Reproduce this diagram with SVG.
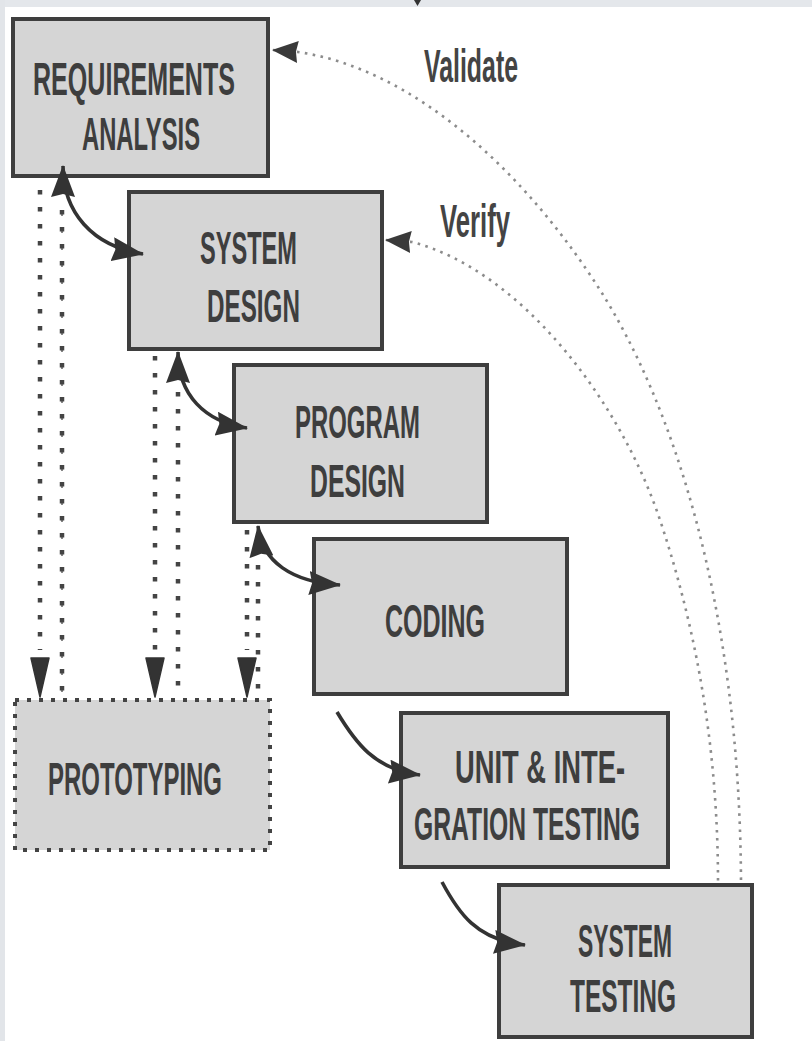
<svg xmlns="http://www.w3.org/2000/svg" width="812" height="1041" viewBox="0 0 812 1041">
<style>
.box{fill:#d5d5d5;stroke:#3e3e3e;stroke-width:4}
.lbl{font-family:"Liberation Sans Narrow","Liberation Sans",Arial,sans-serif;font-weight:bold;font-size:47px;fill:#3e3e3e}
.note{font-family:"Liberation Sans Narrow","Liberation Sans",Arial,sans-serif;font-weight:bold;font-size:46px;fill:#444}
.flow{fill:none;stroke:#333;stroke-width:3.6}
.dotA{fill:none;stroke:#444;stroke-width:4.5;stroke-dasharray:4.5 12.5}
.dotB{fill:none;stroke:#888;stroke-width:2;stroke-dasharray:2 15;stroke-dashoffset:-9}
.arc{fill:none;stroke:#8c8c8c;stroke-width:2.6;stroke-dasharray:2.6 5.4}
.proto{fill:#d5d5d5;stroke:#444;stroke-width:4;stroke-dasharray:4 8}
.dn{fill:#333;stroke:#333;stroke-width:1.5;stroke-linejoin:round}
</style>
<defs>
<marker id="ah" viewBox="0 0 32 24" refX="31" refY="12" markerWidth="32" markerHeight="24" markerUnits="userSpaceOnUse" orient="auto-start-reverse">
<path d="M0,0 L32,12 L0,24 L3,12 Z" fill="#333"/>
</marker>
<marker id="ahv" viewBox="0 0 26 22" refX="25" refY="11" markerWidth="26" markerHeight="22" markerUnits="userSpaceOnUse" orient="auto-start-reverse">
<path d="M0,0 L26,11 L0,22 L2,11 Z" fill="#3a3a3a"/>
</marker>
</defs>
<rect x="0" y="0" width="812" height="1041" fill="#ffffff"/>
<rect x="0" y="0" width="812" height="7" fill="#e4e7eb"/>
<rect x="0" y="0" width="5" height="1041" fill="#e2e5e9"/>
<polygon points="414,0 421,0 417.5,6" fill="#333"/>

<g id="prototyping">
<rect class="proto" x="15" y="700" width="255" height="150"/>
<text class="lbl" x="48" y="795" textLength="174" lengthAdjust="spacingAndGlyphs">PROTOTYPING</text>
</g>
<g id="requirements">
<rect class="box" x="13" y="19" width="255" height="157"/>
<text class="lbl" x="33" y="95" textLength="202" lengthAdjust="spacingAndGlyphs">REQUIREMENTS</text>
<text class="lbl" x="82" y="150" textLength="118" lengthAdjust="spacingAndGlyphs">ANALYSIS</text>
</g>
<g id="system-design">
<rect class="box" x="129" y="192" width="253" height="157"/>
<text class="lbl" x="200" y="264" textLength="97" lengthAdjust="spacingAndGlyphs">SYSTEM</text>
<text class="lbl" x="207" y="322" textLength="93" lengthAdjust="spacingAndGlyphs">DESIGN</text>
</g>
<g id="program-design">
<rect class="box" x="234" y="365" width="253" height="157"/>
<text class="lbl" x="295" y="438" textLength="125" lengthAdjust="spacingAndGlyphs">PROGRAM</text>
<text class="lbl" x="310" y="497" textLength="95" lengthAdjust="spacingAndGlyphs">DESIGN</text>
</g>
<g id="coding">
<rect class="box" x="314" y="539" width="253" height="155"/>
<text class="lbl" x="385" y="637" textLength="100" lengthAdjust="spacingAndGlyphs">CODING</text>
</g>
<g id="unit-testing">
<rect class="box" x="401" y="713" width="267" height="154"/>
<text class="lbl" x="455" y="783" textLength="170" lengthAdjust="spacingAndGlyphs">UNIT &amp; INTE-</text>
<text class="lbl" x="414" y="840" textLength="226" lengthAdjust="spacingAndGlyphs">GRATION TESTING</text>
</g>
<g id="system-testing">
<rect class="box" x="499" y="885" width="253" height="152"/>
<text class="lbl" x="578" y="957" textLength="94" lengthAdjust="spacingAndGlyphs">SYSTEM</text>
<text class="lbl" x="570" y="1012" textLength="106" lengthAdjust="spacingAndGlyphs">TESTING</text>
</g>

<g id="labels">
<text class="note" x="424" y="82" textLength="94" lengthAdjust="spacingAndGlyphs">Validate</text>
<text class="note" x="440" y="237" textLength="70" lengthAdjust="spacingAndGlyphs">Verify</text>
</g>

<g id="connectors">
<path class="dotA" d="M40,190 V650"/>
<polygon class="dn" points="31,658 49,658 40,697"/>
<path class="dotB" d="M62,205 V697"/>
<path class="dotA" d="M62,210 V697"/>
<path class="dotA" d="M155,356 V650"/>
<polygon class="dn" points="146,658 164,658 155,697"/>
<path class="dotA" d="M178,392 V697"/>
<path class="dotA" d="M247,530 V650"/>
<polygon class="dn" points="238,658 256,658 247,697"/>
<path class="dotA" d="M258,565 V697"/>
<path class="arc" d="M273,50 L298,52 C420,70 530,180 600,290 C670,400 740,600 741,883" marker-start="url(#ahv)"/>
<path class="arc" d="M386,240 L412,242 C520,270 620,400 660,520 C700,640 718,760 718,883" marker-start="url(#ahv)"/>
<path class="flow" d="M63,166 C63,212 92,246 143,254" marker-start="url(#ah)" marker-end="url(#ah)"/>
<path class="flow" d="M178,352 C178,395 205,422 247,428" marker-start="url(#ah)" marker-end="url(#ah)"/>
<path class="flow" d="M258,526 C262,562 292,582 340,585" marker-start="url(#ah)" marker-end="url(#ah)"/>
<path class="flow" d="M337,712 C355,742 375,770 420,775" marker-end="url(#ah)"/>
<path class="flow" d="M442,882 C458,912 476,940 525,945" marker-end="url(#ah)"/>
</g>
</svg>
